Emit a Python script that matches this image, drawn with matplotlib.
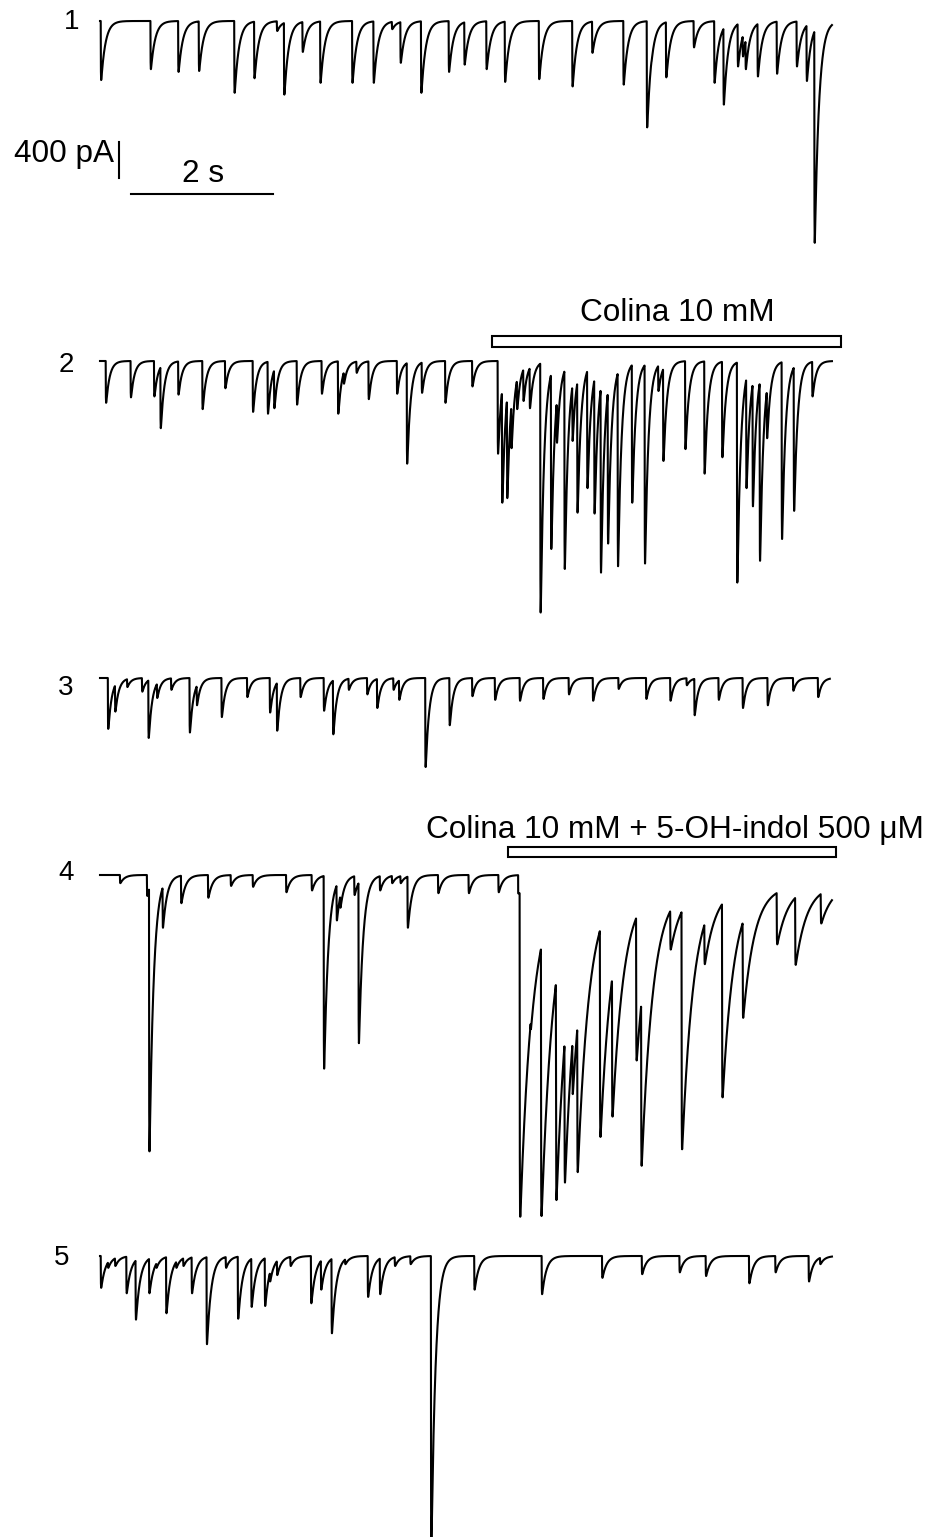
import numpy as np
import matplotlib.pyplot as plt
from matplotlib.patches import Rectangle

plt.rcParams['font.family'] = ['Liberation Sans', 'DejaVu Sans']

# --- events: onset time (s), peak amplitude (pA) ---
t1 = [0.01, 0.71, 1.10, 1.39, 1.89, 2.17, 2.49, 2.59, 2.85, 3.10, 3.55, 3.85,
      4.11, 4.23, 4.52, 4.91, 5.13, 5.44, 5.70, 6.18, 6.65, 6.93, 7.37, 7.70,
      7.76, 7.97, 8.36, 8.65, 8.78, 8.98, 9.05, 9.09, 9.26, 9.53, 9.81, 9.95, 10.06]
a1 = [650, 530, 560, 550, 790, 630, 110, 810, 340, 680, 680, 680,
      90, 460, 790, 560, 480, 530, 670, 640, 720, 350, 700, 1170,
      450, 620, 290, 680, 920, 500, 390, 530, 610, 580, 500, 660, 2440]

t2 = [0.08, 0.16, 0.43, 0.76, 0.85, 1.10, 1.44, 1.76, 2.15, 2.36, 2.45, 2.77,
      3.12, 3.35, 3.43, 3.61, 3.78, 4.18, 4.32, 4.53, 4.86, 5.24,
      5.60, 5.66, 5.73, 5.79, 5.87, 5.96, 6.05, 6.20, 6.35, 6.43, 6.54, 6.65,
      6.72, 6.86, 6.96, 7.05, 7.15, 7.29, 7.49, 7.67, 7.86, 7.93, 8.24, 8.51,
      8.76, 8.97, 9.10, 9.19, 9.29, 9.39, 9.60, 9.77, 10.03]
a2 = [460, 80, 400, 390, 740, 370, 530, 300, 560, 580, 520, 480,
      360, 580, 250, 130, 420, 360, 1130, 350, 460, 280,
      1020, 1560, 1510, 960, 530, 440, 520, 2770, 2070, 900, 2290, 880,
      1670, 1400, 1680, 2330, 2010, 2260, 1560, 2230, 330, 1100, 970, 1240,
      1060, 2440, 1400, 1600, 2200, 850, 1960, 1650, 390]

t3 = [0.11, 0.21, 0.38, 0.59, 0.68, 0.80, 1.00, 1.26, 1.36, 1.71, 2.07, 2.39,
      2.49, 2.82, 3.15, 3.28, 3.50, 3.76, 3.90, 4.13, 4.21, 4.58, 4.92, 5.24,
      5.56, 5.91, 6.24, 6.60, 6.94, 7.30, 7.69, 8.03, 8.26, 8.37, 8.71, 9.05,
      9.40, 9.76, 10.11]
a3 = [560, 370, 100, 150, 660, 220, 130, 600, 300, 430, 210, 380,
      580, 210, 360, 620, 130, 180, 330, 130, 240, 980, 520, 200,
      240, 250, 230, 180, 250, 120, 230, 250, 80, 410, 240, 330,
      300, 140, 210]

t4 = [0.28, 0.66, 0.69, 0.88, 1.14, 1.52, 1.84, 2.15, 2.62, 2.98, 3.15, 3.33,
      3.38, 3.58, 3.64, 3.94, 4.11, 4.23, 4.33, 4.76, 5.19, 5.61,
      5.91, 6.06, 6.21, 6.42, 6.54, 6.65, 6.72, 7.04, 7.21, 7.55, 7.62, 8.03,
      8.19, 8.51, 8.76, 9.05, 9.53, 9.79, 10.15]
a4 = [90, 230, 3040, 580, 310, 250, 120, 130, 190, 170, 2130, 500,
      360, 220, 1850, 170, 90, 90, 580, 200, 200, 190,
      3560, 1500, 3560, 3390, 3200, 2230, 3090, 2710, 2490, 1880, 3040, 670,
      2870, 840, 2310, 1440, 640, 870, 420]

t5 = [0.01, 0.11, 0.21, 0.37, 0.50, 0.59, 0.69, 0.79, 0.93, 1.07, 1.17, 1.29,
      1.50, 1.63, 1.77, 1.94, 2.13, 2.32, 2.39, 2.49, 2.68, 2.97, 3.11, 3.26,
      3.45, 3.77, 3.94, 4.15, 4.37, 4.66, 5.27, 6.22, 7.07, 7.63, 8.16, 8.53,
      9.14, 9.51, 9.98, 10.14]
a5 = [350, 130, 110, 410, 700, 110, 410, 130, 630, 130, 110, 410,
      970, 110, 130, 690, 560, 550, 280, 210, 110, 520, 370, 850,
      90, 450, 420, 110, 90, 3190, 370, 420, 240, 200, 180, 220,
      300, 180, 280, 90]

sweep_end = [10.31, 10.31, 10.28, 10.31, 10.31]
decay_ctrl = [0.06, 0.05, 0.05, 0.06, 0.06]     # s
decay_drug = [0.06, 0.05, 0.05, 0.16, 0.06]     # s
drug_onset = [None, 5.55, None, 5.89, None]
slow_amp = [0, 0, 0, 200, 0]                    # pA, sustained inward current
slow_tau = 7.5                                  # s

drug2 = (5.52, 10.44)
drug4 = (5.74, 10.37)

# --- page layout (pixel based) ---
W, H = 926, 1537
X0, PX_PER_S, PA_PER_PX = 100, 71.0, 11.0
base_px = [21, 361, 678, 875, 1256]
label_px = [(72, 22), (66, 365), (66, 688), (66, 873), (62, 1258)]


def xd(px):
    return (px - X0) / PX_PER_S


def yd(py):
    return -py * PA_PER_PX


def sweep(times, amps, k):
    t = np.arange(0, sweep_end[k], 0.001)
    depth = np.zeros_like(t)
    rise = 0.002
    for te, ae in zip(times, amps):
        on = drug_onset[k]
        td = decay_drug[k] if (on is not None and te >= on) else decay_ctrl[k]
        tpk = rise * np.log((rise + td) / rise)
        norm = (1 - np.exp(-tpk / rise)) * np.exp(-tpk / td)
        dt = np.clip(t - te, 0, None)
        kern = np.where(t >= te, (1 - np.exp(-dt / rise)) * np.exp(-dt / td), 0) / norm
        depth = np.maximum(depth, ae * kern)
    if slow_amp[k] and drug_onset[k] is not None:
        dt = np.clip(t - drug_onset[k], 0, None)
        depth += np.where(t >= drug_onset[k], slow_amp[k] * np.exp(-dt / slow_tau), 0)
    return t, yd(base_px[k]) - depth


fig = plt.figure(figsize=(W / 100, H / 100), dpi=100)
ax = fig.add_axes([0, 0, 1, 1])
ax.set_xlim(xd(0), xd(W))
ax.set_ylim(yd(H), 0)
ax.axis('off')

all_t = [t1, t2, t3, t4, t5]
all_a = [a1, a2, a3, a4, a5]
for k in range(5):
    t, y = sweep(all_t[k], all_a[k], k)
    ax.plot(t, y, color='black', lw=1.5)
    fig.text(label_px[k][0] / W, 1 - label_px[k][1] / H, str(k + 1),
             fontsize=20, ha='center', va='center')

# scale bars
ax.plot([xd(119), xd(119)], [yd(142), yd(142) - 400], color='black', lw=1.5)
ax.plot([xd(131), xd(131) + 2], [yd(194), yd(194)], color='black', lw=1.5)
fig.text(114 / W, 1 - 154 / H, '400 pA', fontsize=22.7, ha='right', va='center')
fig.text(203 / W, 1 - 182 / H, '2 s', fontsize=22.7, ha='center', va='baseline')

# drug application bars
ax.add_patch(Rectangle((drug2[0], yd(347)), drug2[1] - drug2[0], 11 * PA_PER_PX,
                       facecolor='white', edgecolor='black', lw=1.5))
fig.text(677 / W, 1 - 321 / H, 'Colina 10 mM', fontsize=22.7, ha='center', va='baseline')
ax.add_patch(Rectangle((drug4[0], yd(857)), drug4[1] - drug4[0], 10 * PA_PER_PX,
                       facecolor='white', edgecolor='black', lw=1.5))
fig.text(675 / W, 1 - 838 / H, 'Colina 10 mM + 5-OH-indol 500 \u03bcM', fontsize=22.7,
         ha='center', va='baseline')

fig.savefig('out.png', dpi=100)
